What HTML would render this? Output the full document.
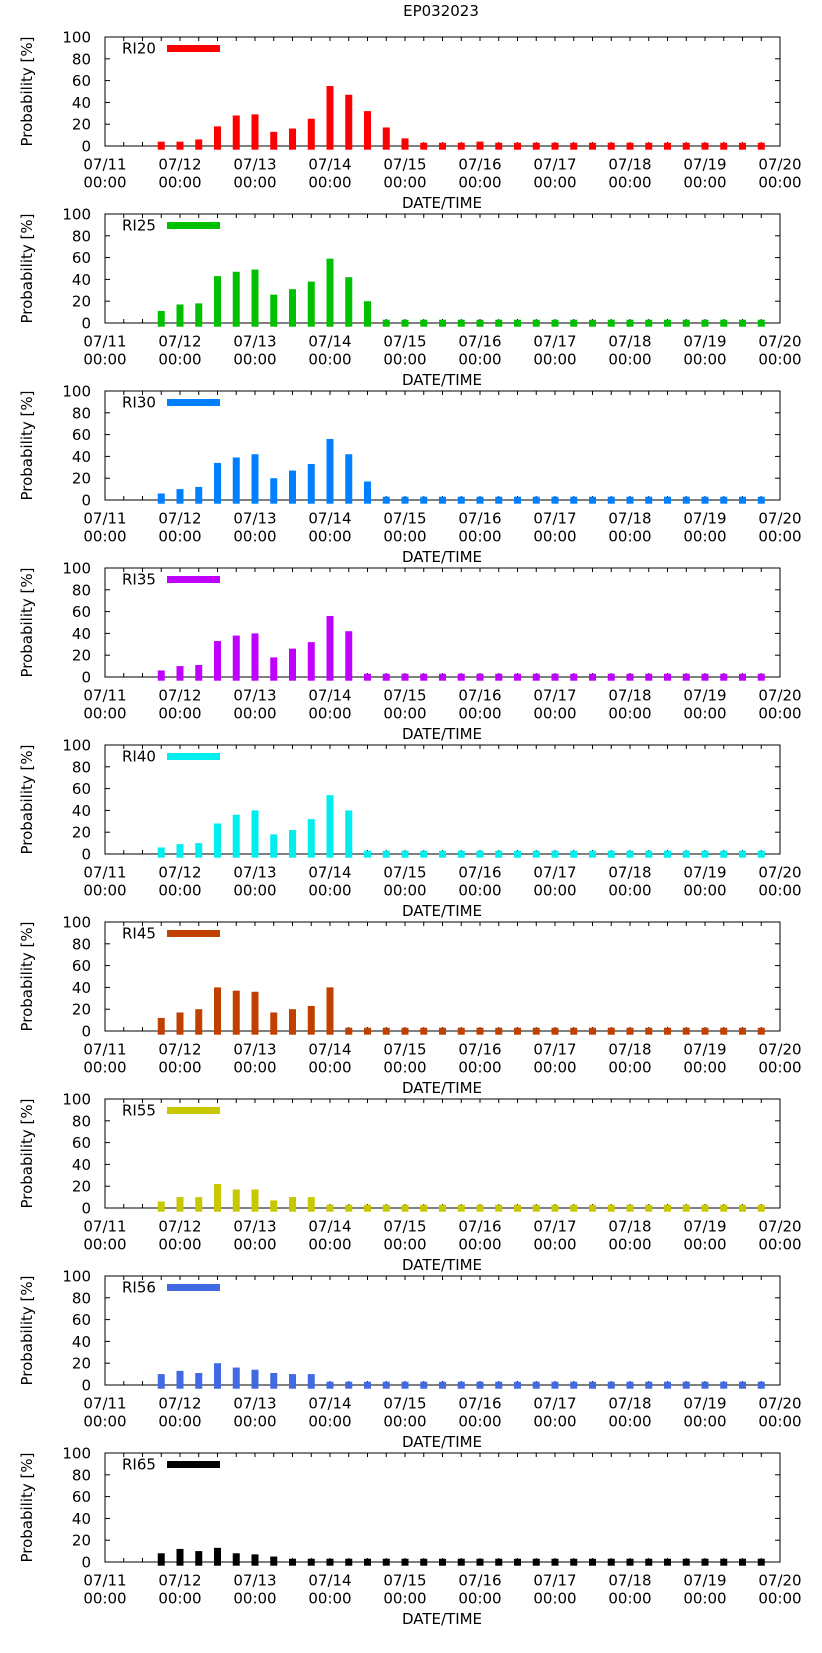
<!DOCTYPE html>
<html><head><meta charset="utf-8"><style>
html,body{margin:0;padding:0;background:#fff;}
svg{display:block;font-family:"DejaVu Sans","Liberation Sans",sans-serif;}
</style></head><body>
<svg id="chart" width="822" height="1653" viewBox="0 0 822 1653" xmlns="http://www.w3.org/2000/svg">
<text x="441" y="16" font-size="15" text-anchor="middle">EP032023</text>
</svg>
<script>
const seriesNames = ["RI20","RI25","RI30","RI35","RI40","RI45","RI55","RI56","RI65"];
const seriesColors = ["#ff0000","#00c000","#0080ff","#c000ff","#00eeee","#c04000","#c8c800","#4169e1","#000000"];
const ri20 = [4,4,6,18,28,29,13,16,25,55,47,32,17,7,3,3,3,4,3,3,3,3,3,3,3,3,3,3,3,3,3,3,3];
const ri25 = [11,17,18,43,47,49,26,31,38,59,42,20,3,3,3,3,3,3,3,3,3,3,3,3,3,3,3,3,3,3,3,3,3];
const ri30 = [6,10,12,34,39,42,20,27,33,56,42,17,3,3,3,3,3,3,3,3,3,3,3,3,3,3,3,3,3,3,3,3,3];
const ri35 = [6,10,11,33,38,40,18,26,32,56,42,3,3,3,3,3,3,3,3,3,3,3,3,3,3,3,3,3,3,3,3,3,3];
const ri40 = [6,9,10,28,36,40,18,22,32,54,40,3,3,3,3,3,3,3,3,3,3,3,3,3,3,3,3,3,3,3,3,3,3];
const ri45 = [12,17,20,40,37,36,17,20,23,40,3,3,3,3,3,3,3,3,3,3,3,3,3,3,3,3,3,3,3,3,3,3,3];
const ri55 = [6,10,10,22,17,17,7,10,10,3,3,3,3,3,3,3,3,3,3,3,3,3,3,3,3,3,3,3,3,3,3,3,3];
const ri56 = [10,13,11,20,16,14,11,10,10,3,3,3,3,3,3,3,3,3,3,3,3,3,3,3,3,3,3,3,3,3,3,3,3];
const ri65 = [8,12,10,13,8,7,5,3,3,3,3,3,3,3,3,3,3,3,3,3,3,3,3,3,3,3,3,3,3,3,3,3,3];
const allSeries = [ri20,ri25,ri30,ri35,ri40,ri45,ri55,ri56,ri65];
const barStartDay = 0.75;   // first bar at 07/11 18:00
const barStepDay = 0.25;    // 6-hourly
const xTickDays = ["07/11","07/12","07/13","07/14","07/15","07/16","07/17","07/18","07/19","07/20"];
const yTicks = [0,20,40,60,80,100];

const NS = "http://www.w3.org/2000/svg";
const svg = document.getElementById("chart");
const L = 105, R = 780, PH = 109, TOP0 = 37, GAP = 177;
function xScale(day){ return L + day * (R - L) / 9; }
function mk(tag, attrs, parent){
  const e = document.createElementNS(NS, tag);
  for (const k in attrs) e.setAttribute(k, attrs[k]);
  (parent || svg).appendChild(e);
  return e;
}
allSeries.forEach((vals, p) => {
  const top = TOP0 + p * GAP, bot = top + PH;
  const yScale = v => bot - v * PH / 100;
  const g = mk("g", {});
  
  
  // x minor ticks
  for (let d = 0; d <= 36; d++) {
    const x = xScale(d * 0.25);
    mk("line", {x1: x, x2: x, y1: top, y2: top + 4, stroke: "#000"}, g);
    mk("line", {x1: x, x2: x, y1: bot, y2: bot - 4, stroke: "#000"}, g);
  }
  // y ticks and labels
  yTicks.forEach(t => {
    const y = yScale(t);
    mk("line", {x1: L, x2: L + 5, y1: y, y2: y, stroke: "#000"}, g);
    mk("line", {x1: R, x2: R - 5, y1: y, y2: y, stroke: "#000"}, g);
    const tl = mk("text", {x: 91, y: y + 5.5, "font-size": 15, "text-anchor": "end"}, g);
    tl.textContent = t;
    
    
  });
  // frame
  const f = mk("rect", {x: L, y: top, width: R - L, height: PH, fill: "none", stroke: "#000", "stroke-width": 1}, g);
  
  
  // bars (drawn over ticks)
  vals.forEach((v, i) => {
    const cx = xScale(barStartDay + i * barStepDay);
    const y = yScale(v);
    const r = mk("rect", {x: cx - 3.5, y: y, width: 7, height: bot + 3.7 - y, fill: seriesColors[p]}, g);
    
    
  });
  // x tick labels
  xTickDays.forEach((lab, d) => {
    const x = xScale(d);
    const t1 = mk("text", {x: x, y: bot + 23.5, "font-size": 15, "text-anchor": "middle"}, g);
    t1.textContent = lab;
    
    
    const t2 = mk("text", {x: x, y: bot + 41.5, "font-size": 15, "text-anchor": "middle"}, g);
    t2.textContent = "00:00";
    
    
  });
  const xt = mk("text", {x: 442, y: bot + 62, "font-size": 15, "text-anchor": "middle"}, g);
  xt.textContent = "DATE/TIME";
  
  
  const cy = (top + bot) / 2;
  const yt = mk("text", {x: 0, y: 0, "font-size": 15, "text-anchor": "middle", transform: "translate(32," + cy + ") rotate(-90)"}, g);
  yt.textContent = "Probability [%]";
  
  
  // legend
  const lt = mk("text", {x: 122, y: top + 16.5, "font-size": 15}, g);
  lt.textContent = seriesNames[p];
  
  
  const ls = mk("rect", {x: 167, y: top + 8, width: 53, height: 7, fill: seriesColors[p]}, g);
  
  
});
</script>
</body></html>
